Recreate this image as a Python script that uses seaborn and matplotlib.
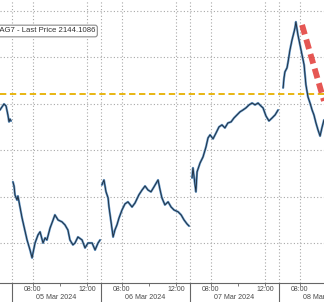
import matplotlib
matplotlib.use("Agg")
import matplotlib.pyplot as plt
import numpy as np
import pandas as pd
import seaborn as sns

# ---------------- data ----------------
day_labels = ["04 Mar 2024", "05 Mar 2024", "06 Mar 2024", "07 Mar 2024", "08 Mar 2024"]

mar04_time = ["12:07", "12:16", "12:25", "12:34", "12:42", "12:47", "12:51", "12:56"]
mar04_price = [2137.4, 2138.7, 2140.0, 2139.1, 2135.3, 2132.3, 2133.5, 2132.7]

mar05_time = ["06:34", "06:39", "06:43", "06:52", "06:56", "07:05", "07:14", "07:23", "07:36",
              "07:49", "07:58", "08:02", "08:11", "08:24", "08:33", "08:46", "08:55", "09:03",
              "09:17", "09:30", "09:38", "09:52", "10:09", "10:22", "10:35", "10:44", "10:57",
              "11:06", "11:19", "11:37", "11:50", "12:03", "12:21", "12:34", "12:47", "12:56"]
mar05_price = [2106.5, 2104.7, 2100.9, 2098.7, 2100.4, 2095.7, 2091.0, 2087.1, 2081.5,
               2077.2, 2073.8, 2075.9, 2080.2, 2083.7, 2085.0, 2080.2, 2082.4, 2081.5,
               2086.7, 2090.1, 2092.3, 2090.1, 2089.3, 2088.0, 2085.8, 2081.5, 2079.4,
               2080.2, 2082.8, 2081.5, 2078.1, 2080.2, 2080.2, 2077.2, 2080.2, 2081.5]

mar06_time = ["06:34", "06:43", "06:52", "07:01", "07:05", "07:14", "07:23", "07:31", "07:40",
              "07:49", "08:02", "08:15", "08:28", "08:46", "08:59", "09:16", "09:30", "09:43",
              "09:56", "10:09", "10:22", "10:35", "10:40", "10:49", "10:57", "11:10", "11:24",
              "11:37", "11:50", "12:08", "12:21", "12:34", "12:47", "12:56"]
mar06_price = [2105.2, 2107.3, 2102.2, 2099.6, 2095.7, 2089.3, 2082.8, 2085.8, 2088.0,
               2091.0, 2094.4, 2097.0, 2097.9, 2095.7, 2097.4, 2100.9, 2103.0, 2104.7,
               2103.0, 2102.2, 2104.3, 2106.5, 2107.3, 2103.0, 2099.6, 2096.6, 2097.9,
               2095.7, 2094.4, 2093.6, 2092.3, 2090.1, 2088.4, 2087.5]

mar07_time = ["06:39", "06:43", "06:52", "06:56", "07:01", "07:14", "07:27", "07:40", "07:49",
              "07:58", "08:11", "08:24", "08:37", "08:50", "09:03", "09:16", "09:30", "09:43",
              "09:56", "10:09", "10:22", "10:35", "10:49", "11:02", "11:15", "11:28", "11:41",
              "11:50", "12:03", "12:16", "12:30", "12:43", "12:56"]
mar07_price = [2108.2, 2112.5, 2105.2, 2102.2, 2110.8, 2114.6, 2117.2, 2121.5, 2125.4,
               2126.7, 2125.0, 2127.5, 2130.1, 2131.0, 2129.7, 2131.8, 2132.3, 2134.0,
               2135.3, 2136.6, 2137.4, 2138.3, 2139.6, 2140.4, 2139.6, 2140.4, 2139.1,
               2138.3, 2134.8, 2132.7, 2134.0, 2135.3, 2137.4]

mar08_time = ["06:48", "06:52", "06:56", "07:05", "07:09", "07:18", "07:27", "07:36", "07:40",
              "07:44", "07:53", "08:02", "08:11", "08:20", "08:28", "08:37", "08:46", "08:55",
              "09:03", "09:12", "09:21", "09:30", "09:38", "09:47"]
mar08_price = [2146.9, 2151.2, 2153.8, 2155.5, 2157.6, 2163.2, 2167.5, 2171.0, 2172.7,
               2175.3, 2169.7, 2165.4, 2161.1, 2156.8, 2148.2, 2143.0, 2140.4, 2137.4,
               2135.3, 2131.8, 2128.8, 2126.2, 2129.7, 2133.1]

last_price = 2144.1086
label_text = "MAG7 - Last Price 2144.1086"

arrow_time = ["08:11", "09:47"]   # on 08 Mar
arrow_price = [2174.0, 2141.3]

y_grid = [2080, 2100, 2120, 2140, 2160, 2180]
tick_times = ["08:00", "12:00"]
minor_times = ["10:00"]

# ---------------- helpers ----------------
SESSION_OPEN = 6 * 60 + 30
SESSION_LEN = 390


def pos(day_idx, hhmm):
    h, m = map(int, hhmm.split(":"))
    return day_idx * SESSION_LEN + (h * 60 + m - SESSION_OPEN)


series = [(mar04_time, mar04_price), (mar05_time, mar05_price), (mar06_time, mar06_price),
          (mar07_time, mar07_price), (mar08_time, mar08_price)]
rows = []
for d, (ts, ps) in enumerate(series):
    for t, p in zip(ts, ps):
        rows.append({"day": d, "pos": pos(d, t), "price": p})
df = pd.DataFrame(rows)

# ---------------- figure ----------------
sns.set_theme(style="white")
plt.rcParams["font.family"] = ["Liberation Sans", "DejaVu Sans"]

fig = plt.figure(figsize=(3.24, 3.02), dpi=100)
ax = fig.add_axes([0, 19 / 302, 1, 283 / 302])

grid_kw = dict(color="#a8a8a8", lw=0.8, ls=(0, (1, 2)), zorder=0)

major_pos, major_lab, minor_pos, bounds = [], [], [], []
for d in range(len(day_labels)):
    bounds.append(d * SESSION_LEN)
    for t in tick_times:
        major_pos.append(pos(d, t))
        major_lab.append(t)
    for t in minor_times:
        minor_pos.append(pos(d, t))
for x in bounds + major_pos:
    ax.axvline(x, **grid_kw)
for yv in y_grid:
    ax.axhline(yv, **grid_kw)

# price line (two passes to mimic candle texture)
sns.lineplot(data=df, x="pos", y="price", units="day", estimator=None, sort=False,
             color="#5f92c2", lw=1.6, ax=ax, legend=False, zorder=3)
sns.lineplot(data=df, x="pos", y="price", units="day", estimator=None, sort=False,
             color="#1b2836", lw=0.6, ax=ax, legend=False, zorder=4)

# last price line
ax.axhline(last_price, color="#e6b000", lw=1.3, ls=(0, (3.5, 2)), zorder=2)

# red dashed trend arrow
ax.plot([pos(4, arrow_time[0]), pos(4, arrow_time[1])], arrow_price,
        color="#e23a36", alpha=0.85, lw=4.2, ls=(0, (1.7, 0.9)),
        solid_capstyle="butt", dash_capstyle="butt", zorder=5)

# axis styling
for s in ["top", "left", "right"]:
    ax.spines[s].set_visible(False)
ax.spines["bottom"].set_color("#666666")
ax.spines["bottom"].set_linewidth(0.8)
ax.set_yticks([])
ax.set_xticks(major_pos)
ax.set_xticklabels(major_lab)
ax.set_xticks(minor_pos, minor=True)
ax.tick_params(axis="x", which="major", length=2, width=0.6, color="#666666",
               pad=0.3, labelsize=5.0, labelcolor="#4a4a4a", direction="out")
ax.tick_params(axis="x", which="minor", length=1.8, width=0.6, color="#666666", direction="out")
ax.tick_params(axis="x", which="both", bottom=True)
ax.set_xlabel("")
ax.set_ylabel("")

# limits (set after the ticks so the view is not expanded)
k = 89 / 390  # px per minute
x_left = SESSION_LEN - 12 / k
ax.set_xlim(x_left, x_left + 324 / k)
ax.set_ylim(2063.0, 2184.7)

# day separators below the axis + date labels
xt = ax.get_xaxis_transform()
ax.vlines(bounds, -0.08, 0, transform=xt, clip_on=False, color="#666666", lw=0.8)
for d, lab in enumerate(day_labels):
    ax.text(d * SESSION_LEN + SESSION_LEN / 2, -0.0515, lab, transform=xt,
            ha="center", va="center", fontsize=5.1, color="#4a4a4a")

# legend-like label box
ax.text(95 / 324, (283 - 31) / 283, label_text, transform=ax.transAxes,
        ha="right", va="center", fontsize=5.6, color="#333333", zorder=10,
        bbox=dict(boxstyle="round,pad=0.3,rounding_size=0.3", fc="white",
                  ec="#8a8a8a", lw=0.8))

ax.set_xlim(x_left, x_left + 324 / k)
fig.savefig("out.png", dpi=100, facecolor="white")
